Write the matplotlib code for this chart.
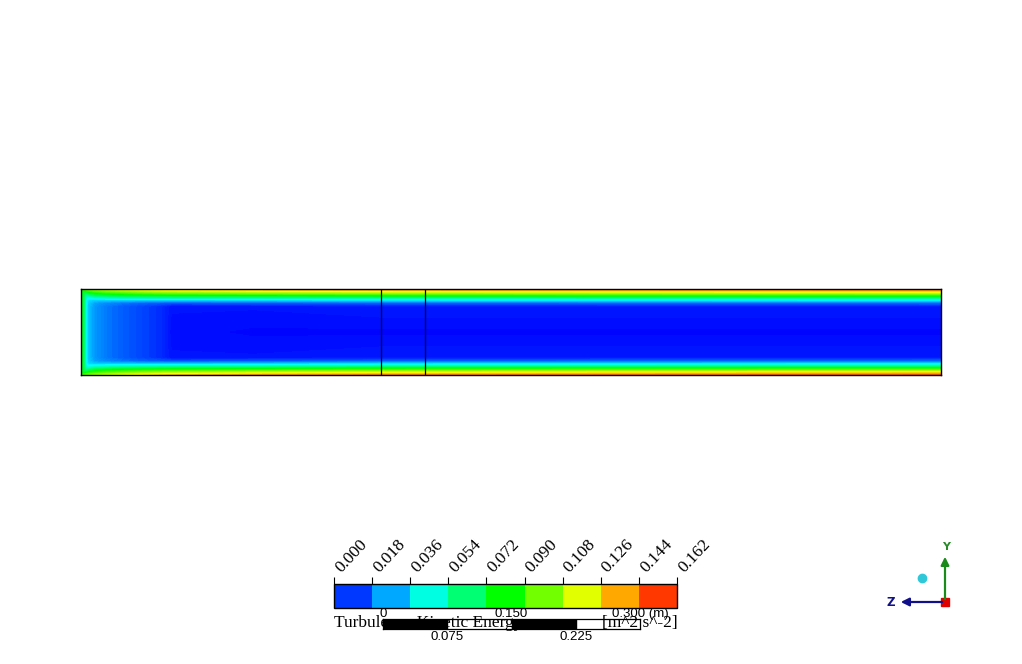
import numpy as np
import matplotlib
matplotlib.use("Agg")
from matplotlib import pyplot as plt
from matplotlib.colors import LinearSegmentedColormap, ListedColormap, BoundaryNorm
from matplotlib.cm import ScalarMappable
from matplotlib.transforms import ScaledTranslation

# channel: 1.0 m long, 0.1 m high
length, height = 1.0, 0.1
interfaces = [0.349, 0.400]   # domain interface lines (m)

# stations along the channel (m) and distance from the wall (m)
x_st = [0.000, 0.003, 0.005, 0.008, 0.016, 0.030, 0.048, 0.070, 0.093, 0.105, 0.200, 0.350, 0.600, 1.000]
d_st = [0.000, 0.002, 0.004, 0.007, 0.010, 0.013, 0.016, 0.020, 0.050]

# turbulence kinetic energy [m^2 s^-2], one row per x station, columns = wall distance
k_tab = [
    [0.090, 0.082, 0.079, 0.078, 0.078, 0.078, 0.078, 0.078, 0.078],
    [0.092, 0.080, 0.074, 0.071, 0.070, 0.070, 0.070, 0.070, 0.070],
    [0.095, 0.082, 0.068, 0.055, 0.048, 0.046, 0.045, 0.045, 0.045],
    [0.098, 0.088, 0.075, 0.058, 0.042, 0.035, 0.033, 0.032, 0.032],
    [0.104, 0.094, 0.084, 0.066, 0.046, 0.032, 0.026, 0.024, 0.024],
    [0.110, 0.100, 0.089, 0.071, 0.049, 0.032, 0.022, 0.019, 0.019],
    [0.116, 0.105, 0.093, 0.074, 0.051, 0.032, 0.019, 0.015, 0.015],
    [0.122, 0.110, 0.097, 0.076, 0.052, 0.032, 0.016, 0.011, 0.011],
    [0.127, 0.114, 0.100, 0.078, 0.053, 0.032, 0.014, 0.007, 0.007],
    [0.129, 0.115, 0.101, 0.079, 0.054, 0.032, 0.013, 0.003, 0.002],
    [0.135, 0.120, 0.105, 0.081, 0.055, 0.033, 0.014, 0.003, 0.001],
    [0.140, 0.125, 0.109, 0.084, 0.057, 0.035, 0.015, 0.004, 0.001],
    [0.143, 0.128, 0.112, 0.086, 0.058, 0.036, 0.016, 0.004, 0.001],
    [0.146, 0.131, 0.115, 0.088, 0.060, 0.037, 0.017, 0.004, 0.001],
]

# legend levels
k_levels = [0.000, 0.018, 0.036, 0.054, 0.072, 0.090, 0.108, 0.126, 0.144, 0.162]
scale_major = [0.0, 0.150, 0.300]
scale_minor = [0.075, 0.225]

cfx = LinearSegmentedColormap.from_list("cfx", ["#0000ff", "#00ffff", "#00ff00", "#ffff00", "#ff0000"])

# mirror the wall profile to the top wall
d = np.array(d_st)
y = np.concatenate([d, (height - d[:-1])[::-1]])
k = np.array(k_tab)
Z = np.concatenate([k, k[:, :-1][:, ::-1]], axis=1).T
X, Y = np.meshgrid(np.array(x_st), y)

W, H = 1022, 664
fig = plt.figure(figsize=(W / 100, H / 100), dpi=100)

def px_axes(x0, y0, x1, y1, **kw):
    return fig.add_axes([x0 / W, 1 - y1 / H, (x1 - x0) / W, (y1 - y0) / H], **kw)

ax = px_axes(81, 289, 941, 375)
ax.contourf(X, Y, Z, levels=np.linspace(0, 0.162, 120), cmap=cfx, extend="both")
for xi in interfaces:
    ax.axvline(xi, color="black", lw=0.9)
ax.set_xlim(0, length)
ax.set_ylim(0, height)
ax.set_xticks([])
ax.set_yticks([])
for s in ax.spines.values():
    s.set_linewidth(1.0)
    s.set_color("black")

# discrete legend
band_cols = cfx((np.arange(len(k_levels) - 1) + 0.5) / (len(k_levels) - 1))
sm = ScalarMappable(norm=BoundaryNorm(k_levels, len(k_levels) - 1), cmap=ListedColormap(band_cols))
cax = px_axes(334, 584, 677, 608)
cb = fig.colorbar(sm, cax=cax, orientation="horizontal", ticks=k_levels)
cb.outline.set_linewidth(1.0)
cax.xaxis.set_ticks_position("top")
cax.tick_params(axis="x", direction="out", length=5, width=0.8, pad=1)
cax.set_xticklabels([f"{v:.3f}" for v in k_levels], rotation=47, ha="left", va="bottom",
                    rotation_mode="anchor", family="Liberation Serif", fontsize=12.5)
shift = ScaledTranslation(10 / 100, 0, fig.dpi_scale_trans)
for lab in cax.get_xticklabels():
    lab.set_transform(lab.get_transform() + shift)

fig.text(334 / W, 1 - 623 / H, "Turbulence Kinetic Energy", family="Liberation Serif",
         fontsize=12.5, va="center", ha="left", zorder=3)
fig.text(678 / W, 1 - 623 / H, "[m^2 s^-2]", family="Liberation Serif",
         fontsize=12.5, va="center", ha="right", zorder=3)

# length scale ruler
sax = px_axes(383, 619, 640, 629)
sax.set_zorder(5)
sax.patch.set_visible(False)
sax.set_xlim(scale_major[0], scale_major[-1])
sax.set_ylim(0, 1)
sax.axvspan(scale_major[0], scale_minor[0], color="black")
sax.axvspan(scale_major[1], scale_minor[1], color="black")
sax.set_xticks([])
sax.set_yticks([])
for s in sax.spines.values():
    s.set_linewidth(0.9)
labels = ["0", "0.150", "0.300 (m)"]
for v, lab in zip(scale_major, labels):
    sax.text(v, 0.9, lab, ha="center", va="bottom", fontsize=9.5, family="Liberation Sans",
             transform=sax.get_xaxis_transform())
for v in scale_minor:
    sax.text(v, -0.2, f"{v:.3f}", ha="center", va="top", fontsize=9.5, family="Liberation Sans",
             transform=sax.get_xaxis_transform())

# axis triad
tax = px_axes(0, 0, W, H)
tax.set_xlim(0, W)
tax.set_ylim(H, 0)
tax.axis("off")
tax.annotate("", xy=(945, 554), xytext=(945, 602),
             arrowprops=dict(arrowstyle="-|>", color="#1a8a1a", lw=1.6, mutation_scale=12))
tax.annotate("", xy=(898, 602), xytext=(945, 602),
             arrowprops=dict(arrowstyle="-|>", color="#10108a", lw=1.6, mutation_scale=12))
tax.text(946, 547, "Y", color="#2a8a2a", fontsize=8, fontweight="bold", ha="center", va="center")
tax.text(891, 602, "Z", color="#10108a", fontsize=8.5, fontweight="bold", ha="center", va="center")
tax.plot(945, 602, marker="s", ms=6, color="#e00000")
tax.plot(922, 578, marker="o", ms=6, color="#30c8d8")

fig.savefig("out.png", dpi=100)
